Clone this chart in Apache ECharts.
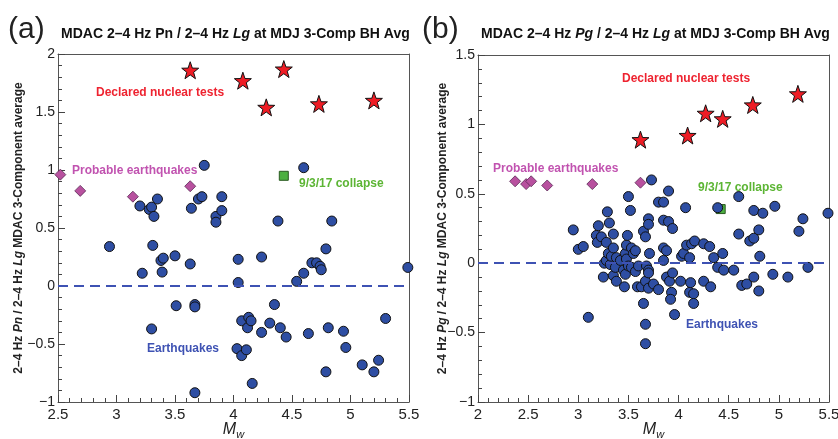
<!DOCTYPE html>
<html>
<head>
<meta charset="utf-8">
<script src="https://cdn.jsdelivr.net/npm/echarts@6/dist/echarts.min.js"></script>
<style>html,body{margin:0;padding:0;background:#fff}#c{width:838px;height:439px}</style>
</head>
<body>
<div id="c"></div>
<script>
// ---------- Panel (a): Pn/Lg ----------
const aNuclear = [[3.63,1.86],[4.08,1.77],[4.43,1.87],[4.28,1.54],[4.73,1.57],[5.20,1.60]];
const aProbable = [[2.52,0.96],[2.69,0.82],[3.14,0.77],[3.63,0.86]];
const aCollapse = [[4.43,0.95]];
const aQuakes = [
  [2.94,0.34],[3.20,0.69],[3.22,0.11],[3.28,0.66],[3.30,0.68],[3.32,0.60],[3.35,0.75],
  [3.31,0.35],[3.30,-0.37],[3.38,0.22],[3.40,0.24],[3.39,0.12],[3.50,0.26],[3.51,-0.17],
  [3.63,0.19],[3.64,0.67],[3.67,-0.16],[3.67,-0.18],[3.67,-0.92],[3.70,0.75],[3.73,0.77],
  [3.75,1.04],[3.85,0.60],[3.85,0.55],[3.90,0.77],[3.90,0.65],[4.03,-0.54],[4.04,0.03],
  [4.04,0.23],[4.07,-0.60],[4.07,-0.30],[4.11,-0.55],[4.12,-0.36],[4.13,-0.27],[4.15,-0.30],
  [4.16,-0.84],[4.24,-0.40],[4.24,0.25],[4.31,-0.32],[4.35,-0.16],[4.38,0.56],[4.40,-0.36],
  [4.45,-0.44],[4.54,0.04],[4.60,0.11],[4.60,1.02],[4.64,-0.41],[4.67,0.20],[4.71,0.20],
  [4.74,0.17],[4.75,0.14],[4.79,0.32],[4.79,-0.74],[4.81,-0.36],[4.84,0.56],[4.94,-0.39],
  [4.96,-0.53],[5.10,-0.68],[5.20,-0.74],[5.24,-0.64],[5.30,-0.28],[5.49,0.16]
];
// ---------- Panel (b): Pg/Lg ----------
const bNuclear = [[3.62,0.89],[4.09,0.92],[4.27,1.08],[4.44,1.04],[4.74,1.14],[5.19,1.22]];
const bProbable = [[2.37,0.59],[2.48,0.57],[2.53,0.59],[2.69,0.56],[3.14,0.57],[3.62,0.58]];
const bCollapse = [[4.42,0.39]];
const bQuakes = [
  [2.95,0.24],[3.00,0.10],[3.05,0.12],[3.10,-0.39],[3.18,0.20],[3.20,0.27],[3.19,0.15],
  [3.23,0.19],[3.25,-0.10],[3.26,0.00],[3.28,0.15],[3.28,0.02],[3.29,0.37],[3.30,0.07],
  [3.31,0.29],[3.32,-0.01],[3.33,0.05],[3.35,0.21],[3.35,0.11],[3.35,-0.09],[3.37,-0.03],
  [3.38,0.04],[3.38,-0.13],[3.42,0.02],[3.45,-0.05],[3.46,-0.17],[3.47,-0.08],[3.47,0.07],
  [3.48,0.03],[3.48,0.13],[3.49,0.20],[3.50,-0.02],[3.50,0.48],[3.52,0.38],[3.53,-0.03],
  [3.53,0.11],[3.55,0.07],[3.57,-0.06],[3.57,0.09],[3.59,-0.17],[3.60,-0.02],[3.63,-0.17],
  [3.65,0.23],[3.65,-0.29],[3.67,0.19],[3.67,-0.13],[3.67,-0.44],[3.67,-0.58],[3.68,-0.02],
  [3.70,0.32],[3.70,0.28],[3.70,-0.05],[3.71,0.07],[3.70,-0.07],[3.70,-0.18],[3.73,0.60],
  [3.75,-0.15],[3.80,0.44],[3.80,-0.19],[3.85,0.44],[3.85,0.31],[3.85,0.11],[3.85,0.02],
  [3.88,0.09],[3.88,-0.10],[3.90,0.52],[3.90,0.30],[3.91,-0.13],[3.94,0.25],[3.94,-0.07],
  [3.93,-0.21],[3.92,-0.26],[3.96,-0.37],[4.02,-0.13],[4.03,0.05],[4.05,0.07],[4.07,0.40],
  [4.08,0.13],[4.11,0.04],[4.11,-0.21],[4.12,-0.14],[4.13,0.14],[4.15,-0.22],[4.15,-0.29],
  [4.16,0.16],[4.25,0.14],[4.25,-0.13],[4.31,0.12],[4.32,-0.17],[4.35,0.04],[4.39,0.40],
  [4.39,-0.03],[4.44,0.07],[4.45,-0.05],[4.55,-0.05],[4.60,0.48],[4.60,0.21],[4.63,-0.16],
  [4.68,-0.15],[4.71,0.16],[4.75,0.18],[4.75,0.38],[4.75,-0.10],[4.80,0.24],[4.80,-0.20],
  [4.81,0.05],[4.84,0.36],[4.94,-0.08],[4.96,0.41],[5.09,-0.10],[5.20,0.23],[5.24,0.32],
  [5.29,-0.03],[5.49,0.36]
];
// axis ranges
const aX = [2.5, 5.5], aY = [-1, 2];
const bX = [2, 5.5], bY = [-1, 1.5];

const STAR = 'path://M0,-10 L2.35,-3.24 L9.51,-3.09 L3.8,1.24 L5.88,8.09 L0,4 L-5.88,8.09 L-3.8,1.24 L-9.51,-3.09 L-2.35,-3.24 Z';
const C = {
  quake: '#2e4ea3', star: '#ee1c25', diamond: '#b8519f', square: '#4cb040',
  red: '#ee2330', mag: '#c153b0', green: '#5cb534', blue: '#3e52b3', axis: '#555555', tick: '#444444'
};
const fmt = v => String(v).replace('-', '\u2212');

// main axes: line, labels and name
function xAxis(idx, r) {
  return {
    type: 'value', gridIndex: idx, min: r[0], max: r[1], interval: 0.5, position: 'bottom',
    axisLine: {show: true, onZero: false, lineStyle: {color: C.axis, width: 1}},
    axisTick: {show: false}, minorTick: {show: false}, splitLine: {show: false},
    axisLabel: {color: '#222', fontSize: 15, fontFamily: 'Liberation Sans', margin: 5, showMinLabel: true, showMaxLabel: true},
    name: '{m|M}{s|w}', nameLocation: 'middle', nameGap: 20, nameMoveOverlap: false,
    nameTextStyle: {rich: {
      m: {fontSize: 16, fontStyle: 'italic', fontFamily: 'Liberation Sans', color: '#222', verticalAlign: 'top'},
      s: {fontSize: 11, fontStyle: 'italic', fontFamily: 'Liberation Sans', color: '#222', verticalAlign: 'top', padding: [7, 0, 0, 0]}
    }}
  };
}
function yAxis(idx, r, name, gap) {
  return {
    type: 'value', gridIndex: idx, min: r[0], max: r[1], interval: 0.5, position: 'left',
    axisLine: {show: true, onZero: false, lineStyle: {color: C.axis, width: 1}},
    axisTick: {show: false}, minorTick: {show: false}, splitLine: {show: false},
    axisLabel: {color: '#222', fontSize: 14, fontFamily: 'Liberation Sans', margin: 3, formatter: fmt, showMinLabel: true, showMaxLabel: true},
    name: name, nameLocation: 'middle', nameGap: gap, nameRotate: 90, nameMoveOverlap: false,
    nameTextStyle: {fontSize: 12, fontWeight: 'bold', fontFamily: 'Liberation Sans', color: '#222',
      rich: {i: {fontSize: 12, fontWeight: 'bold', fontStyle: 'italic', fontFamily: 'Liberation Sans', color: '#222'}}}
  };
}
// tick-only axes (bottom / left)
function tickX(idx, r) {
  return {type: 'value', gridIndex: idx, min: r[0], max: r[1], interval: 0.5, position: 'bottom',
    axisLine: {show: false, onZero: false},
    axisTick: {show: true, inside: true, length: 7, lineStyle: {color: C.tick, width: 1}},
    minorTick: {show: true, splitNumber: 5, length: 4, lineStyle: {color: C.tick, width: 1}},
    axisLabel: {show: false}, splitLine: {show: false}};
}
function tickY(idx, r) {
  return {type: 'value', gridIndex: idx, min: r[0], max: r[1], interval: 0.5, position: 'left',
    axisLine: {show: false, onZero: false},
    axisTick: {show: true, inside: true, length: 7, lineStyle: {color: C.tick, width: 1}},
    minorTick: {show: true, splitNumber: 5, length: 4, lineStyle: {color: C.tick, width: 1}},
    axisLabel: {show: false}, splitLine: {show: false}};
}
// frame axes (top / right)
function frameX(idx, r) {
  return {type: 'value', gridIndex: idx, min: r[0], max: r[1], position: 'top',
    axisLine: {show: true, onZero: false, lineStyle: {color: C.axis, width: 1}},
    axisTick: {show: false}, minorTick: {show: false}, axisLabel: {show: false}, splitLine: {show: false}};
}
function frameY(idx, r) {
  return {type: 'value', gridIndex: idx, min: r[0], max: r[1], position: 'right',
    axisLine: {show: true, onZero: false, lineStyle: {color: C.axis, width: 1}},
    axisTick: {show: false}, minorTick: {show: false}, axisLabel: {show: false}, splitLine: {show: false}};
}
function panelSeries(idx, nuc, prob, col, quakes) {
  const base = {type: 'scatter', xAxisIndex: idx, yAxisIndex: idx, silent: true, animation: false};
  return [
    Object.assign({}, base, {
      data: [], markLine: {silent: true, symbol: 'none', label: {show: false},
        lineStyle: {color: C.blue, type: [10, 6], width: 2, opacity: 1}, data: [{yAxis: 0}], animation: false}
    }),
    Object.assign({}, base, {data: col, symbol: 'rect', symbolSize: 9,
      itemStyle: {color: C.square, borderColor: '#2b5a22', borderWidth: 1, opacity: 1}}),
    Object.assign({}, base, {data: quakes, symbol: 'circle', symbolSize: 10,
      itemStyle: {color: C.quake, borderColor: '#111', borderWidth: 1, opacity: 1}}),
    Object.assign({}, base, {data: prob, symbol: 'diamond', symbolSize: 11,
      itemStyle: {color: C.diamond, borderColor: '#5a2a55', borderWidth: 0.8, opacity: 1}}),
    Object.assign({}, base, {data: nuc, symbol: STAR, symbolSize: 17,
      itemStyle: {color: C.star, borderColor: '#111', borderWidth: 1, opacity: 1}})
  ];
}
function txt(x, y, text, color, size, rich) {
  const s = {text: text, fill: color, font: 'bold ' + size + 'px "Liberation Sans"', verticalAlign: 'middle', align: 'left'};
  if (rich) s.rich = rich;
  return {type: 'text', x: x, y: y, style: s, silent: true};
}
const italicRich = {i: {fontStyle: 'italic', fontWeight: 'bold', fontSize: 14, fontFamily: 'Liberation Sans', fill: '#111'}};

const chart = echarts.init(document.getElementById('c'), null, {renderer: 'canvas'});
chart.setOption({
  animation: false,
  grid: [
    {left: 58, right: 429, top: 54, bottom: 37, show: false, outerBoundsMode: 'none'},
    {left: 478, right: 9, top: 55, bottom: 37, show: false, outerBoundsMode: 'none'}
  ],
  xAxis: [xAxis(0, aX), xAxis(1, bX), frameX(0, aX), frameX(1, bX), tickX(0, aX), tickX(1, bX)],
  yAxis: [
    yAxis(0, aY, '2\u20134 Hz {i|Pn} / 2\u20134 Hz {i|Lg} MDAC 3-Component average', 33),
    yAxis(1, bY, '2\u20134 Hz {i|Pg} / 2\u20134 Hz {i|Lg} MDAC 3-Component average', 29),
    frameY(0, aY), frameY(1, bY), tickY(0, aY), tickY(1, bY)
  ],
  series: [].concat(
    panelSeries(0, aNuclear, aProbable, aCollapse, aQuakes),
    panelSeries(1, bNuclear, bProbable, bCollapse, bQuakes)
  ),
  graphic: [
    {type: 'text', x: 8, y: 30, silent: true, style: {text: '(a)', fill: '#222', font: '30px "Liberation Sans"', verticalAlign: 'middle'}},
    {type: 'text', x: 422, y: 30, silent: true, style: {text: '(b)', fill: '#222', font: '30px "Liberation Sans"', verticalAlign: 'middle'}},
    txt(61, 34, 'MDAC 2\u20134 Hz Pn / 2\u20134 Hz {i|Lg} at MDJ 3-Comp BH Avg', '#111', 14, italicRich),
    txt(481, 34, 'MDAC 2\u20134 Hz {i|Pg} / 2\u20134 Hz {i|Lg} at MDJ 3-Comp BH Avg', '#111', 14, italicRich),
    txt(96, 93, 'Declared nuclear tests', C.red, 12),
    txt(72, 171, 'Probable earthquakes', C.mag, 12),
    txt(299, 184, '9/3/17 collapse', C.green, 12),
    txt(147, 349, 'Earthquakes', C.blue, 12),
    txt(622, 79, 'Declared nuclear tests', C.red, 12),
    txt(493, 169, 'Probable earthquakes', C.mag, 12),
    txt(698, 188, '9/3/17 collapse', C.green, 12),
    txt(686, 325, 'Earthquakes', C.blue, 12)
  ]
});
</script>
</body>
</html>
